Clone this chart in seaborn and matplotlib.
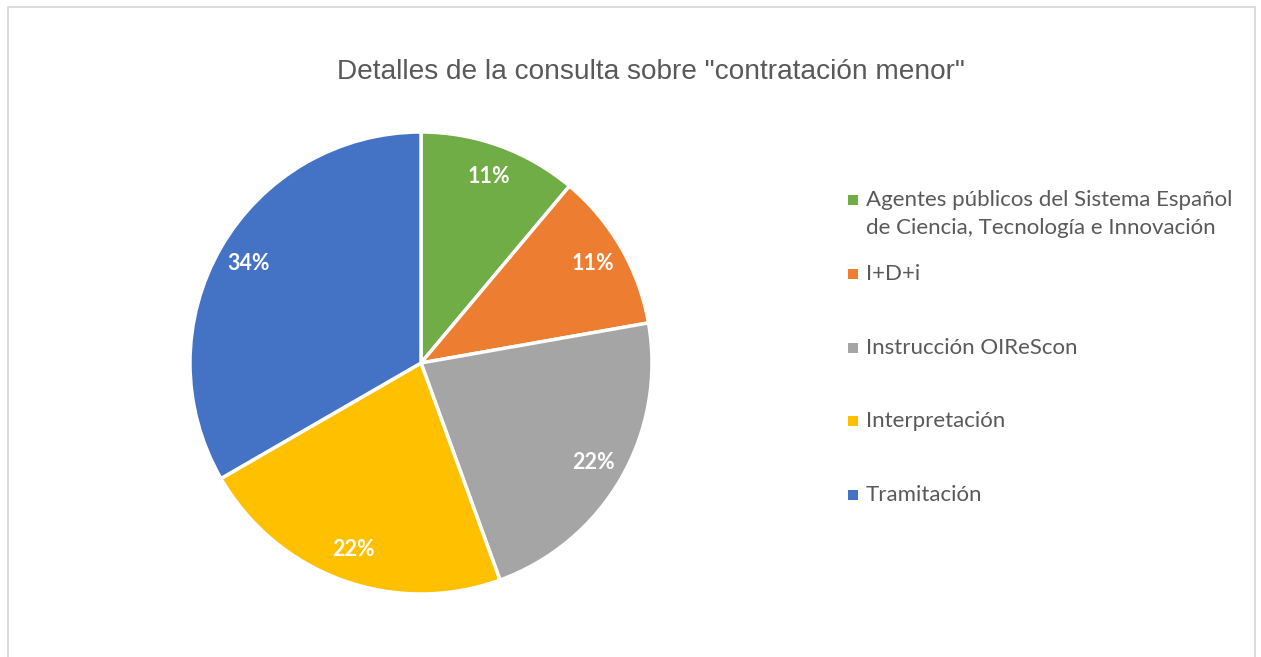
import matplotlib
matplotlib.use("Agg")
import matplotlib.pyplot as plt
import matplotlib.patches as mpatches
import seaborn as sns

categories = ["Agentes públicos del Sistema Español\nde Ciencia, Tecnología e Innovación",
              "I+D+i", "Instrucción OIReScon", "Interpretación", "Tramitación"]
counts = [1, 1, 2, 2, 3]
pct_labels = ["11%", "11%", "22%", "22%", "34%"]
colors = ["#70AD47", "#ED7D31", "#A5A5A5", "#FFC000", "#4472C4"]

sns.set_theme(style="white")
plt.rcParams['font.family'] = ['Liberation Sans', 'DejaVu Sans']

W, H = 1261, 657
fig = plt.figure(figsize=(W / 100, H / 100), dpi=100)

# chart border
fig.patches.append(mpatches.Rectangle((8 / W, -0.05), (1255 - 8) / W, 1.05 - 7 / H,
                                      transform=fig.transFigure, fill=False,
                                      edgecolor="#D9D9D9", linewidth=1.3))

ax = fig.add_axes([190 / W, 1 - 594 / H, 462 / W, 462 / H])
lab_iter = iter(pct_labels)
wedges, texts, autotexts = ax.pie(counts, colors=sns.color_palette(colors), startangle=90,
                                  counterclock=False, autopct=lambda p: next(lab_iter),
                                  pctdistance=0.86,
                                  wedgeprops=dict(edgecolor="white", linewidth=2.5))
for t in autotexts:
    t.set_color("white")
    t.set_fontweight("bold")
    t.set_fontsize(15.5)
    t.set_family(["Lato", "DejaVu Sans"])
ax.set_xlim(-1, 1)
ax.set_ylim(-1, 1)
ax.set_aspect("equal")

fig.text(651 / W, 1 - 72 / H, 'Detalles de la consulta sobre "contratación menor"',
         ha="center", va="center", fontsize=20.2, color="#595959")

# legend entries
legend_y = [214, 274, 348, 421, 495]
for lab, col, y in zip(categories, colors, legend_y):
    sq_y = y - 14 if "\n" in lab else y
    fig.patches.append(mpatches.Rectangle((848 / W, 1 - (sq_y + 5) / H),
                                          10 / W, 10 / H, transform=fig.transFigure,
                                          facecolor=col, edgecolor="none"))
    fig.text(866 / W, 1 - y / H, lab, ha="left", va="center", fontsize=16,
             color="#595959", family=["Lato", "DejaVu Sans"], linespacing=1.45)

fig.savefig("out.png", dpi=100)
